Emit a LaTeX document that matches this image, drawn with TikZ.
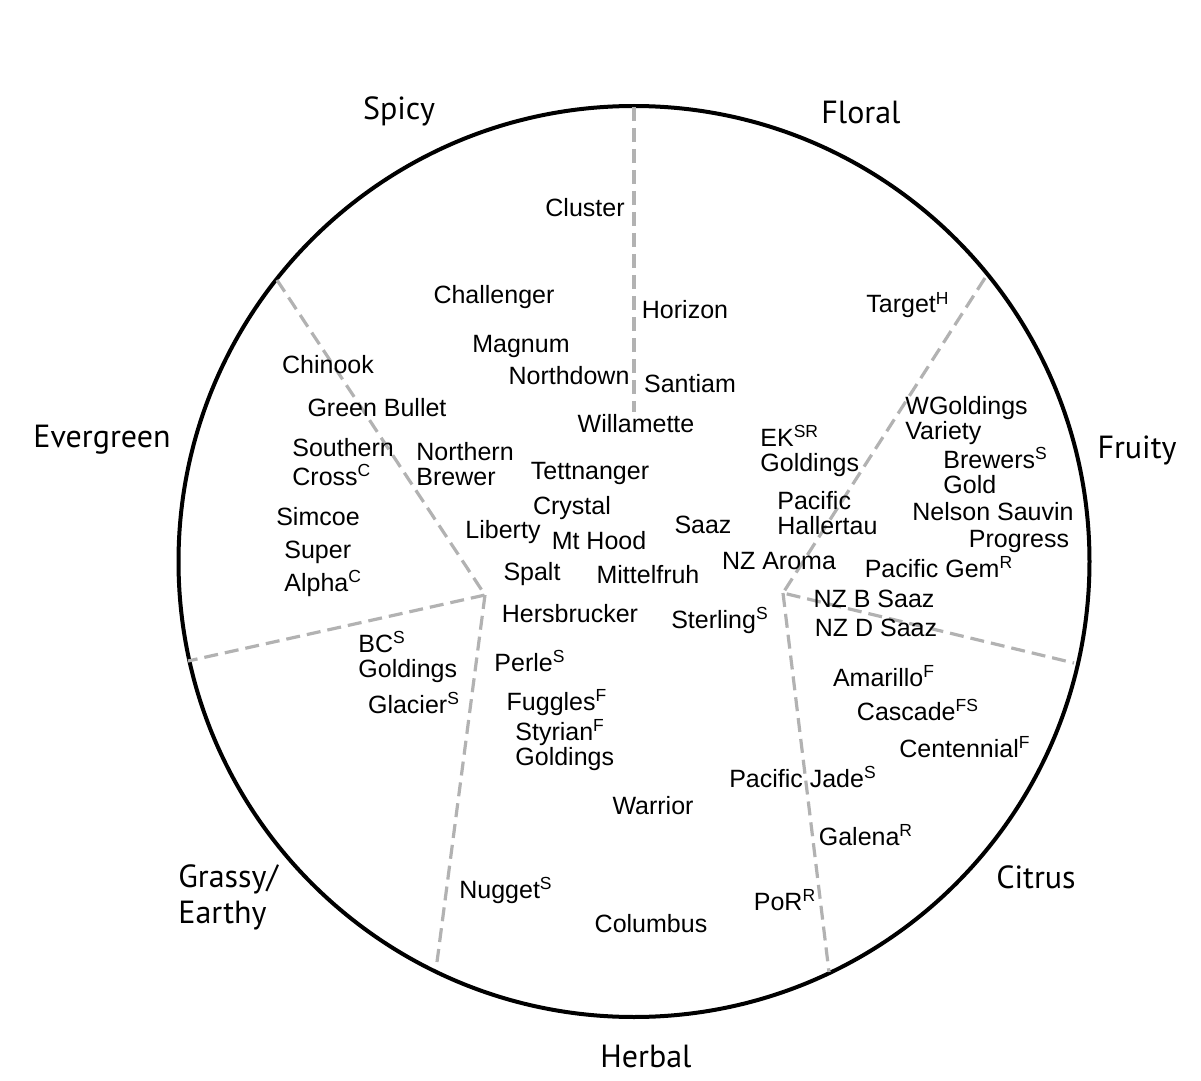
\documentclass[tikz,border=0pt]{standalone}
\usepackage{fontspec}
\setmainfont{Liberation Sans}
\newfontfamily\catfont{PT Sans}

\begin{document}
\begin{tikzpicture}[
  x=0.5pt, y=-0.5pt,
  hop/.style={anchor=base, inner sep=0pt, font=\fontsize{12.5}{12.5}\selectfont},
  hops/.style={hop, anchor=base west, align=left},
  cat/.style={anchor=base, inner sep=0pt, font=\catfont\fontsize{16}{18}\selectfont},
  divider/.style={draw=black!30, line width=1.6pt, dash pattern=on 7pt off 3.5pt}
]
  \useasboundingbox (0,0) rectangle (1201,1081);
  \draw[line width=2pt] (634,561.5) circle[radius=227.75pt];

  \coordinate (top1) at (634,107);
  \coordinate (top2) at (634,412);
  \coordinate (hubL) at (485,595);
  \coordinate (endLa) at (277,280);
  \coordinate (endLb) at (188,661);
  \coordinate (endLc) at (437,962);
  \coordinate (hubR) at (783,593);
  \coordinate (endRa) at (985,278);
  \coordinate (endRb) at (1074,663);
  \coordinate (endRc) at (829,972);

  \draw[divider] (top1) -- (top2);
  \draw[divider] (endLa) -- (hubL) -- (endLb);
  \draw[divider] (hubL) -- (endLc);
  \draw[divider] (endRa) -- (hubR) -- (endRb);
  \draw[divider] (hubR) -- (endRc);

  \node[cat] (spicy)     at (399,120)  {Spicy};
  \node[cat] (floral)    at (861,124)  {Floral};
  \node[cat] (evergreen) at (102,447)  {Evergreen};
  \node[cat] (fruity)    at (1137,458) {Fruity};
  \node[cat] (citrus)    at (1036,888) {Citrus};
  \node[cat] (herbal)    at (646,1067) {Herbal};
  \node[cat, anchor=base west, align=left, font=\catfont\fontsize{16}{18}\selectfont]
    (grassy) at (178,923) {Grassy/\\Earthy};

  \node[hop] (cluster)    at (585,217)  {Cluster};
  \node[hop] (challenger) at (494,303)  {Challenger};
  \node[hop] (magnum)     at (521,352)  {Magnum};
  \node[hop] (northdown)  at (569,384)  {Northdown};
  \node[hop] (horizon)    at (685,318)  {Horizon};
  \node[hop] (santiam)    at (690,393)  {Santiam};
  \node[hop] (willamette) at (636,432)  {Willamette};
  \node[hop] (target)     at (908,313)  {Target\textsuperscript{H}};

  \node[hop] (chinook)    at (328,373)  {Chinook};
  \node[hop] (greenbul)   at (377,416)  {Green Bullet};
  \node[hops] (southern)  at (292,485)  {Southern\\[2pt]Cross\textsuperscript{C}};
  \node[hop] (simcoe)     at (318,525)  {Simcoe};
  \node[hops] (superalp)  at (284,591)  {Super\\[2pt]Alpha\textsuperscript{C}};

  \node[hops] (northern)  at (416,485)  {Northern\\Brewer};
  \node[hop] (tettnang)   at (590,479)  {Tettnanger};
  \node[hop] (crystal)    at (572,514)  {Crystal};
  \node[hop] (liberty)    at (503,538)  {Liberty};
  \node[hop] (mthood)     at (599,549)  {Mt Hood};
  \node[hop] (spalt)      at (532,580)  {Spalt};
  \node[hop] (mittel)     at (648,583)  {Mittelfruh};
  \node[hop] (hersbr)     at (570,622)  {Hersbrucker};
  \node[hop] (saaz)       at (703,533)  {Saaz};
  \node[hop] (nzaroma)    at (779,569)  {NZ Aroma};
  \node[hop] (sterling)   at (720,628)  {Sterling\textsuperscript{S}};
  \node[hops] (ekgold)    at (760,471)  {EK\textsuperscript{SR}\\Goldings};
  \node[hops] (pachall)   at (777,534)  {Pacific\\Hallertau};

  \node[hops] (wgold)     at (905,439)  {WGoldings\\Variety};
  \node[hops] (brewgold)  at (943,493)  {Brewers\textsuperscript{S}\\Gold};
  \node[hop] (nelson)     at (993,520)  {Nelson Sauvin};
  \node[hop] (progress)   at (1019,547) {Progress};
  \node[hop] (pacgem)     at (939,577)  {Pacific Gem\textsuperscript{R}};
  \node[hop] (nzbsaaz)    at (874,607)  {NZ B Saaz};
  \node[hop] (nzdsaaz)    at (876,636)  {NZ D Saaz};

  \node[hop] (amarillo)   at (884,686)  {Amarillo\textsuperscript{F}};
  \node[hop] (cascade)    at (918,720)  {Cascade\textsuperscript{FS}};
  \node[hop] (centennial) at (965,757)  {Centennial\textsuperscript{F}};
  \node[hop] (pacjade)    at (803,787)  {Pacific Jade\textsuperscript{S}};
  \node[hop] (galena)     at (866,845)  {Galena\textsuperscript{R}};
  \node[hop] (por)        at (785,910)  {PoR\textsuperscript{R}};

  \node[hop] (perle)      at (530,671)  {Perle\textsuperscript{S}};
  \node[hop] (fuggles)    at (557,710)  {Fuggles\textsuperscript{F}};
  \node[hops] (styrian)   at (515,765)  {Styrian\textsuperscript{F}\\Goldings};
  \node[hop] (warrior)    at (653,814)  {Warrior};
  \node[hop] (nugget)     at (506,898)  {Nugget\textsuperscript{S}};
  \node[hop] (columbus)   at (651,932)  {Columbus};

  \node[hops] (bcgold)    at (358,677)  {BC\textsuperscript{S}\\Goldings};
  \node[hop] (glacier)    at (414,713)  {Glacier\textsuperscript{S}};
\end{tikzpicture}
\end{document}
